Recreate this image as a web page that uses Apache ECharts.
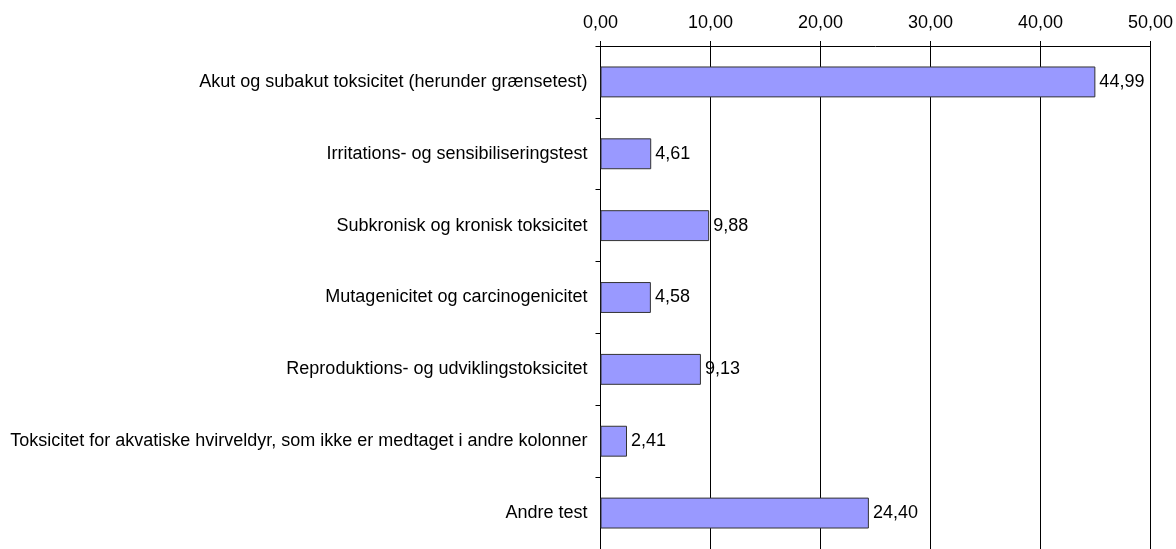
<!DOCTYPE html>
<html>
<head>
<meta charset="utf-8">
<script src="https://cdn.jsdelivr.net/npm/echarts@6/dist/echarts.min.js"></script>
<style>
html, body { margin: 0; padding: 0; background: #fff; }
#chart { width: 1176px; height: 549px; }
</style>
</head>
<body>
<div id="chart"></div>
<script>
var categories = [
  'Akut og subakut toksicitet (herunder grænsetest)',
  'Irritations- og sensibiliseringstest',
  'Subkronisk og kronisk toksicitet',
  'Mutagenicitet og carcinogenicitet',
  'Reproduktions- og udviklingstoksicitet',
  'Toksicitet for akvatiske hvirveldyr, som ikke er medtaget i andre kolonner',
  'Andre test'
];
var values = [44.99, 4.61, 9.88, 4.58, 9.13, 2.41, 24.40];
var axisMin = 0, axisMax = 50, axisStep = 10;

function fmt(v) {
  return v.toFixed(2).replace('.', ',');
}

var myChart = echarts.init(document.getElementById('chart'));
var option = {
  animation: false,
  textStyle: { fontFamily: 'Liberation Sans, Arial, sans-serif' },
  grid: {
    left: 600.5,
    right: 24,
    top: 46,
    height: 508,
    containLabel: false
  },
  xAxis: {
    type: 'value',
    position: 'top',
    min: axisMin,
    max: axisMax,
    interval: axisStep,
    axisLine: { show: true, lineStyle: { color: '#000', width: 1 } },
    axisTick: { show: true, inside: false, length: 5, lineStyle: { color: '#000' } },
    axisLabel: {
      color: '#000',
      fontSize: 18,
      margin: 14,
      formatter: function (v) { return fmt(v); }
    },
    splitLine: { show: true, lineStyle: { color: '#000', width: 1 } }
  },
  yAxis: {
    type: 'category',
    data: categories,
    inverse: true,
    axisLine: { show: true, lineStyle: { color: '#000', width: 1 } },
    axisTick: { show: true, inside: false, length: 5, lineStyle: { color: '#000' } },
    axisLabel: { color: '#000', fontSize: 18, margin: 13 },
    splitLine: { show: false }
  },
  series: [{
    type: 'bar',
    data: values,
    barWidth: '43%',
    itemStyle: { color: '#9999ff', borderColor: '#333', borderWidth: 1 },
    label: {
      show: true,
      position: 'right',
      distance: 4,
      color: '#000',
      fontSize: 18,
      formatter: function (p) { return fmt(p.value); }
    }
  }]
};
myChart.setOption(option, true);
</script>
</body>
</html>
